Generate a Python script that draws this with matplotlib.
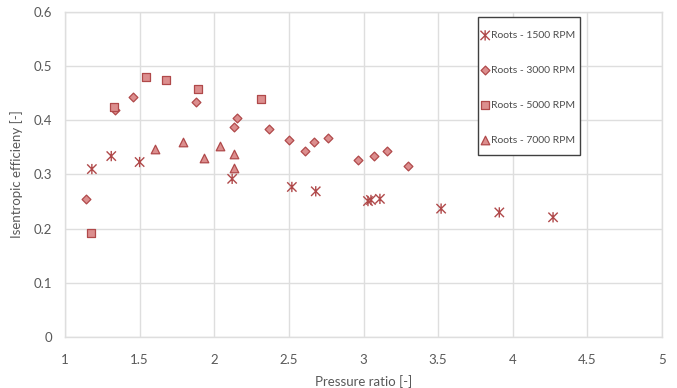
import matplotlib
matplotlib.use("Agg")
import matplotlib.pyplot as plt
from matplotlib.path import Path
from matplotlib.patches import Rectangle

plt.rcParams['font.family'] = ['Lato', 'DejaVu Sans']

# Measured operating points: pressure ratio vs isentropic efficiency
pr_1500 = [1.18, 1.31, 1.50, 2.12, 2.52, 2.68, 3.03, 3.05, 3.11, 3.52, 3.91, 4.27]
eff_1500 = [0.310, 0.334, 0.323, 0.292, 0.277, 0.269, 0.251, 0.253, 0.255, 0.237, 0.230, 0.221]

pr_3000 = [1.14, 1.335, 1.456, 1.88, 2.13, 2.15, 2.37, 2.50, 2.61, 2.67, 2.765, 2.96, 3.07, 3.155, 3.30]
eff_3000 = [0.255, 0.419, 0.443, 0.434, 0.388, 0.404, 0.384, 0.364, 0.343, 0.360, 0.367, 0.327, 0.334, 0.343, 0.316]

pr_5000 = [1.175, 1.33, 1.54, 1.68, 1.89, 2.31]
eff_5000 = [0.192, 0.424, 0.480, 0.474, 0.457, 0.439]

pr_7000 = [1.60, 1.79, 1.93, 2.04, 2.13, 2.135]
eff_7000 = [0.348, 0.360, 0.330, 0.352, 0.337, 0.312]

series_labels = ['Roots - 1500 RPM', 'Roots - 3000 RPM', 'Roots - 5000 RPM', 'Roots - 7000 RPM']

x_ticks = [1, 1.5, 2, 2.5, 3, 3.5, 4, 4.5, 5]
x_tick_labels = ['1', '1.5', '2', '2.5', '3', '3.5', '4', '4.5', '5']
y_ticks = [0, 0.1, 0.2, 0.3, 0.4, 0.5, 0.6]
y_tick_labels = ['0', '0.1', '0.2', '0.3', '0.4', '0.5', '0.6']

edge = '#B0494A'
fill = '#DC8E8E'
text_col = '#595959'
grid_col = '#DEDEDE'

# Star marker: an X crossed by a vertical stroke
star = Path([(-1, -1), (1, 1), (-1, 1), (1, -1), (0, -1.1), (0, 1.1)],
            [Path.MOVETO, Path.LINETO, Path.MOVETO, Path.LINETO, Path.MOVETO, Path.LINETO])

fig = plt.figure(figsize=(6.77, 3.88), dpi=100)
ax = fig.add_axes([65 / 677, 1 - 337 / 388, (662 - 65) / 677, (337 - 12) / 388])

ax.scatter(pr_1500, eff_1500, marker=star, s=55, facecolor='none', edgecolor=edge,
           linewidths=1.0, label=series_labels[0], zorder=3)
ax.scatter(pr_3000, eff_3000, marker='D', s=20, facecolor=fill, edgecolor=edge,
           linewidths=0.9, label=series_labels[1], zorder=3)
ax.scatter(pr_5000, eff_5000, marker='s', s=32, facecolor=fill, edgecolor=edge,
           linewidths=0.9, label=series_labels[2], zorder=3)
ax.scatter(pr_7000, eff_7000, marker='^', s=38, facecolor=fill, edgecolor=edge,
           linewidths=0.9, label=series_labels[3], zorder=3)

ax.set_xlim(1, 5)
ax.set_ylim(0, 0.6)
ax.set_xticks(x_ticks)
ax.set_xticklabels(x_tick_labels)
ax.set_yticks(y_ticks)
ax.set_yticklabels(y_tick_labels)
ax.tick_params(length=0, labelsize=9.5, labelcolor=text_col, pad=9)
ax.tick_params(axis='x', pad=12)
ax.grid(True, color=grid_col, linewidth=1.0, zorder=0)
ax.set_axisbelow(True)
for sp in ax.spines.values():
    sp.set_color(grid_col)
    sp.set_linewidth(1.0)

ax.set_xlabel('Pressure ratio [-]', fontsize=9.5, color=text_col, labelpad=7)
ax.set_ylabel('Isentropic efficieny [-]', fontsize=9.5, color=text_col, labelpad=8)

# Legend box drawn separately so its padding can be set freely
box_x0, box_x1 = (478 - 65) / 597, (580 - 65) / 597
box_y1, box_y0 = 1 - (17 - 12) / 325, 1 - (155 - 12) / 325
ax.add_patch(Rectangle((box_x0, box_y0), box_x1 - box_x0, box_y1 - box_y0,
                       transform=ax.transAxes, facecolor='white', edgecolor='#404040',
                       linewidth=1.0, zorder=4))

leg = ax.legend(loc='upper left', bbox_to_anchor=(box_x0 - 0.002, box_y1 - 0.033),
                fontsize=7.5, labelspacing=2.45, handletextpad=0.05, handlelength=1.0,
                borderpad=0.3, frameon=False, borderaxespad=0)
leg.set_zorder(5)
for t in leg.get_texts():
    t.set_color('#4D4D4D')

fig.savefig('out.png', dpi=100, facecolor='white')
